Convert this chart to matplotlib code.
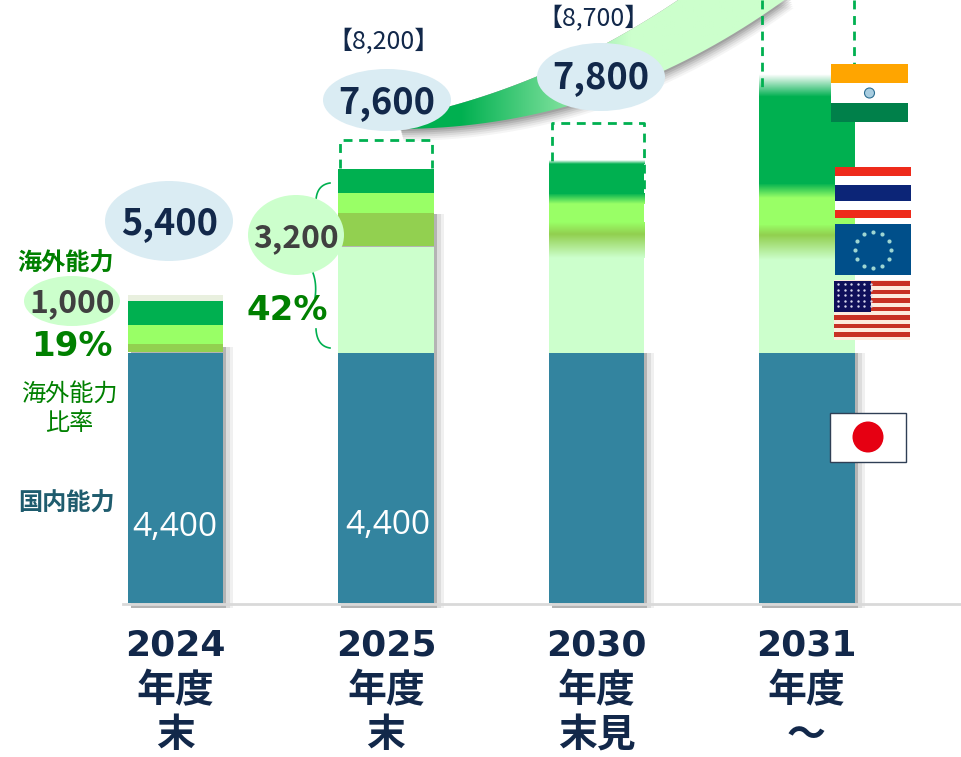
import matplotlib
matplotlib.use("Agg")
import matplotlib.pyplot as plt
import numpy as np
from matplotlib.colors import to_rgb
from matplotlib.patches import Ellipse, Polygon, Rectangle, Circle

plt.rcParams['font.family'] = ['Noto Sans CJK JP', 'DejaVu Sans']

# values (1 px is about 17.6 units)
years = ["2024", "2025", "2030", "2031"]
sub1 = ["年度", "年度", "年度", "年度"]
sub2 = ["末", "末", "末見", "～"]
domestic = [4400, 4400, 4400, 4400]
pale = [0, 1865, 1800, 1800]
olive = [160, 600, 500, 450]
lime = [335, 350, 380, 560]
green = [420, 420, 640, 1700]
cap = [105, 0, 70, 390]
totals = ["5,400", "7,600", "7,800"]
plan_labels = ["【8,200】", "【8,700】"]
plan_tops = [8150, 8450]

BLUE = "#33849F"
PALE = "#CCFFCC"
OLIVE = "#92D050"
LIME = "#99FF66"
GREEN = "#00B050"
NAVY = "#12284A"
DARKGREEN = "#008000"
SKY = "#DAECF3"
GRAY = "#404040"

px_per_unit = 250 / 4400


def grad(ax, x0, x1, y0, y1, c0, c1, z=3):
    # vertical fade between two colours, y0 at the bottom
    t = np.linspace(0, 1, 40)[:, None]
    a, b = np.array(to_rgb(c0)), np.array(to_rgb(c1))
    img = (a + (b - a) * t)[:, None, :]
    ax.imshow(img, extent=[x0, x1, y0, y1], origin="lower", aspect="auto", zorder=z)


def curve(p0, p1, p2, n=40):
    # quadratic bezier, for the swoosh edges and the brackets
    t = np.linspace(0, 1, n)[:, None]
    p0, p1, p2 = np.array(p0), np.array(p1), np.array(p2)
    return (1 - t) ** 2 * p0 + 2 * t * (1 - t) * p1 + t ** 2 * p2


fig = plt.figure(figsize=(9.61, 7.57), dpi=100)
ax = fig.add_axes([0, 0, 1, 1])
x_per_px = 1 / 210.5
xlim = (-175.5 * x_per_px, (961 - 175.5) * x_per_px)
ylim = (-(757 - 603) / px_per_unit, 603 / px_per_unit)
ax.axis("off")

xs = np.arange(len(years))
w = 95.5 * x_per_px

# shadows on the right of the bars
shadow_tops = [domestic[0] + 100, 6850, domestic[2], domestic[3]]
for i in xs:
    for off, col in [(10, "#f0f0f0"), (7, "#dddddd"), (3, "#b4b4b4")]:
        ax.bar(i + off * x_per_px, shadow_tops[i] + 90, w, bottom=-90, color=col, zorder=1)

ax.bar(xs, domestic, w, color=BLUE, zorder=2)

# 2024 and 2025 have plain stacked segments
for i in [0, 1]:
    b = domestic[i] + pale[i]
    ax.bar(i, pale[i], w, bottom=b - pale[i], color=PALE, zorder=2)
    ax.bar(i, olive[i] - 18, w, bottom=b + 18, color=OLIVE, zorder=2)
    b += olive[i]
    ax.bar(i, lime[i], w, bottom=b, color=LIME, zorder=2)
    b += lime[i]
    ax.bar(i, green[i], w, bottom=b, color=GREEN, zorder=2)
    b += green[i]
    if cap[i]:
        ax.bar(i, cap[i], w, bottom=b, color="#E9F0DF", zorder=2)

# 2030 and 2031 fade from one segment into the next
for i in [2, 3]:
    x0, x1 = i - w / 2, i + w / 2
    fade = 120 if i == 2 else 170
    b = domestic[i]
    ax.bar(i, pale[i], w, bottom=b, color=PALE, zorder=2)
    b += pale[i]
    grad(ax, x0, x1, b - fade, b + olive[i] * 0.6, PALE, OLIVE)
    grad(ax, x0, x1, b + olive[i] * 0.6, b + olive[i], OLIVE, LIME)
    b += olive[i]
    ax.bar(i, lime[i], w, bottom=b, color=LIME, zorder=3)
    b += lime[i]
    grad(ax, x0, x1, b - fade / 2, b + fade, LIME, GREEN)
    ax.bar(i, green[i] - fade, w, bottom=b + fade, color=GREEN, zorder=3)
    b += green[i]
    grad(ax, x0, x1, b, b + cap[i], GREEN, "#FFFFFF")

ax.set_xlim(xlim)
ax.set_ylim(ylim)

# overlay in picture pixels for the callouts
ov = fig.add_axes([0, 0, 1, 1])
ov.set_xlim(0, 961)
ov.set_ylim(757, 0)
ov.axis("off")
ov.patch.set_alpha(0)

ov.plot([123, 961], [603.5, 603.5], color="#D9D9D9", lw=2, zorder=1)

# swoosh arrow behind the totals
low = curve((400, 129), (610, 128), (790, -4))
up = curve((684, -4), (548, 89), (400, 118))
for dy, a in [(12, .06), (10, .08), (8, .1), (6, .13), (4, .16), (2, .2)]:
    shad = np.vstack([low + [dy * 0.3, dy], up])
    ov.add_patch(Polygon(shad, closed=True, fc="#555555", ec="none", alpha=a, zorder=2))
poly = Polygon(np.vstack([low, up]), closed=True, fc="none", ec="none", zorder=3)
ov.add_patch(poly)
t = np.clip((np.linspace(400, 790, 200) - 460) / 170, 0, 1)[None, :, None]
g0, g1 = np.array(to_rgb(GREEN)), np.array(to_rgb(PALE))
img = ov.imshow(g0 + (g1 - g0) * t, extent=[400, 790, 132, -4], aspect="auto", zorder=3)
img.set_clip_path(poly)
ov.set_xlim(0, 961)
ov.set_ylim(757, 0)

# dashed outlines for the plan figures
dash = dict(color=GREEN, lw=2, ls=(0, (3.2, 2.4)), zorder=4)
rect_x = [(340, 432), (552, 644)]
for (x0, x1), top, bot in zip(rect_x, plan_tops, [168, 192]):
    ty = 603 - top * px_per_unit
    ov.plot([x0, x0, x1, x1], [bot, ty, ty, bot], **dash)
ov.plot([762, 762], [0, 90], **dash)
ov.plot([854, 854], [0, 64], **dash)

# ellipses
for (cx, cy, rx, ry), c in [((169, 221, 64, 40), SKY), ((387, 100, 64, 31), SKY), ((601, 77, 64, 34), SKY),
                            ((296, 235, 48, 40), PALE), ((72, 301, 48, 25), PALE)]:
    ov.add_patch(Ellipse((cx, cy), 2 * rx, 2 * ry, fc=c, ec="none", zorder=5))

for lab, (cx, cy) in zip(totals, [(170, 224), (387, 103), (601, 78)]):
    ov.text(cx, cy, lab, fontsize=26, fontweight="bold", color=NAVY, ha="center", va="center", zorder=6)
ov.text(296, 238, "3,200", fontsize=23, fontweight="bold", color=GRAY, ha="center", va="center", zorder=6)
ov.text(72, 303, "1,000", fontsize=23, fontweight="bold", color=GRAY, ha="center", va="center", zorder=6)

for lab, (cx, cy) in zip(plan_labels, [(383, 42), (594, 19)]):
    ov.text(cx, cy, lab, fontsize=18, color=NAVY, ha="center", va="center", zorder=6)

ov.text(66, 264, "海外能力", fontsize=17.4, fontweight="bold", color=DARKGREEN, ha="center", va="center", zorder=6)
ov.text(72, 347, "19%", fontsize=24.5, fontweight="bold", color=DARKGREEN, ha="center", va="center",
        family="DejaVu Sans", zorder=6)
ov.text(287, 310, "42%", fontsize=24.5, fontweight="bold", color=DARKGREEN, ha="center", va="center",
        family="DejaVu Sans", zorder=6)
ov.text(69, 394, "海外能力", fontsize=17.4, color=DARKGREEN, ha="center", va="center", zorder=6)
ov.text(69, 423, "比率", fontsize=17.4, color=DARKGREEN, ha="center", va="center", zorder=6)
ov.text(66, 504, "国内能力", fontsize=17.4, fontweight="bold", color="#1F5C6E", ha="center", va="center", zorder=6)
ov.text(175, 527, "4,400", fontsize=24, color="white", ha="center", va="center", family="Open Sans", zorder=6)
ov.text(388, 525, "4,400", fontsize=24, color="white", ha="center", va="center", family="Open Sans", zorder=6)

# brackets beside the 2025 bar
for p in [((330, 183), (317, 185), (316, 200)), ((313, 273), (317, 284), (315, 298)),
          ((316, 329), (317, 346), (330, 348))]:
    c = curve(*p)
    ov.plot(c[:, 0], c[:, 1], color=GREEN, lw=1.2, zorder=4)

# year labels
for px, y, s1, s2 in zip([175.5, 386, 596.5, 806.5], years, sub1, sub2):
    ov.text(px, 645, y, fontsize=26, fontweight="bold", color=NAVY, ha="center", va="center",
            family="DejaVu Sans")
    ov.text(px, 691, s1, fontsize=28, fontweight="bold", color=NAVY, ha="center", va="center")
    ov.text(px, 736, s2, fontsize=28, fontweight="bold", color=NAVY, ha="center", va="center")


def band(x0, x1, y0, y1, col, z=7):
    ov.add_patch(Rectangle((x0, y0), x1 - x0, y1 - y0, fc=col, ec="none", zorder=z))


# India
band(831, 908, 64, 83, "#FFA500")
band(831, 908, 83, 103, "white")
band(831, 908, 103, 122, "#00804A")
ov.add_patch(Circle((869.5, 93), 5, fc="#A8CDE0", ec="#2C6E91", lw=0.8, zorder=8))

# Thailand
band(835, 911, 167, 176, "#EE2A1B")
band(835, 911, 176, 185, "white")
band(835, 911, 185, 201, "#0C2577")
band(835, 911, 201, 210, "white")
band(835, 911, 210, 218, "#EE2A1B")

# EU
band(835, 911, 224, 275, "#004F8A")
ang = np.arange(12) * np.pi / 6
ov.scatter(873 + 18 * np.cos(ang), 250 + 18 * np.sin(ang), s=9, c="#9FD6D2", marker="o", zorder=8, linewidths=0)

# USA
band(834, 910, 280, 340, "#FDEBDD")
for k in range(7):
    band(834, 910, 281 + k * 8.5, 285.5 + k * 8.5, "#C73124")
band(834, 871, 281, 312, "#0F0F5A", z=8)
sx, sy = np.meshgrid(np.arange(838, 871, 6.5), np.arange(284, 311, 5.5))
ov.scatter(sx.ravel(), sy.ravel(), s=3, c="#D8D8EE", marker="o", zorder=9, linewidths=0)

# Japan
ov.add_patch(Rectangle((829.5, 412.5), 76.5, 49.5, fc="white", ec="#2F3F55", lw=1, zorder=7))
ov.add_patch(Circle((868, 437), 15.5, fc="#E60012", ec="none", zorder=8))

fig.savefig("out.png", dpi=100)
